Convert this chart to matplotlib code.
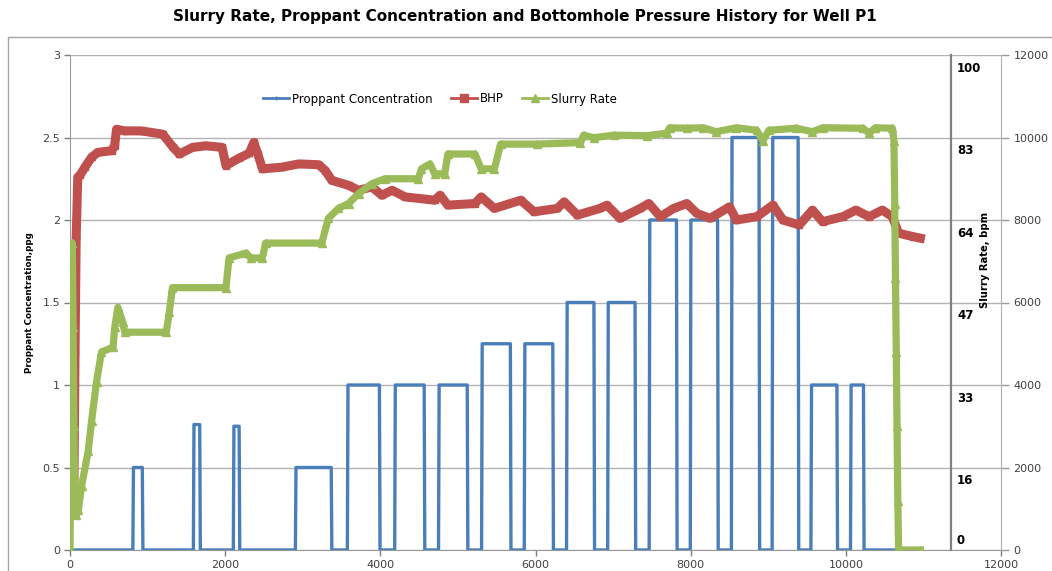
import numpy as np
import matplotlib
matplotlib.use("Agg")
import matplotlib.pyplot as plt
from matplotlib.patches import Rectangle
from matplotlib.lines import Line2D
from matplotlib.transforms import offset_copy

# proppant stages: start time, end time, concentration (ppg)
stage_start = [810, 1590, 2105, 2905, 3575, 4185, 4750, 5305, 5855, 6400, 6930, 7465, 7995, 8525, 9050, 9550, 10060]
stage_end = [940, 1680, 2188, 3375, 3996, 4573, 5128, 5684, 6231, 6761, 7291, 7825, 8355, 8889, 9393, 9893, 10235]
stage_conc = [0.5, 0.76, 0.75, 0.5, 1.0, 1.0, 1.0, 1.25, 1.25, 1.5, 1.5, 2.0, 2.0, 2.5, 2.5, 1.0, 1.0]
prop_end_time = 10650

# bottomhole pressure, psi
bhp_t = [0, 15, 30, 50, 65, 80, 100, 128, 192, 278, 360, 535, 575, 600, 705, 920, 1195, 1330, 1410,
         1580, 1750, 1960, 2010, 2180, 2310, 2370, 2420, 2480, 2730, 2950, 3205, 3290, 3375, 3590,
         3720, 3890, 4020, 4150, 4320, 4700, 4770, 4870, 5220, 5300, 5470, 5810, 5980, 6280, 6370,
         6540, 6830, 6920, 7090, 7350, 7460, 7610, 7780, 7950, 8080, 8250, 8500, 8590, 8850, 9060,
         9190, 9400, 9570, 9700, 9960, 10130, 10300, 10470, 10600, 10680, 10860, 10960]
bhp = [5320, 3200, 1200, 1400, 4800, 7600, 9040, 9080, 9280, 9520, 9640, 9680, 9800, 10200, 10160,
       10160, 10080, 9760, 9600, 9760, 9800, 9760, 9320, 9500, 9620, 9880, 9600, 9240, 9280, 9360,
       9340, 9200, 8960, 8840, 8720, 8800, 8600, 8720, 8560, 8480, 8600, 8360, 8400, 8560, 8280,
       8480, 8200, 8280, 8440, 8120, 8280, 8360, 8040, 8280, 8400, 8080, 8280, 8400, 8160, 8040,
       8320, 8000, 8080, 8360, 8000, 7880, 8240, 7960, 8080, 8240, 8080, 8240, 8080, 7680, 7600, 7560]

# slurry rate, bpm
rate_t = [0, 10, 20, 30, 40, 50, 60, 80, 107, 150, 235, 278, 342, 406, 555, 577, 617, 680, 705, 1240,
          1280, 1320, 2010, 2050, 2270, 2330, 2480, 2520, 3245, 3330, 3460, 3590, 3720, 3890, 4060,
          4490, 4530, 4640, 4700, 4830, 4870, 5220, 5300, 5470, 5550, 6020, 6580, 6620, 6750, 7010,
          7440, 7690, 7730, 7950, 8160, 8330, 8590, 8850, 8930, 9010, 9360, 9570, 9700, 10220, 10300,
          10380, 10600, 10620, 10630, 10640, 10650, 10660, 10670, 10680, 10960]
rate = [0, 20, 40, 62, 45, 25, 10, 7, 8, 13, 20, 26, 34, 40, 41, 45, 49, 46, 44, 44,
        48, 53, 53, 59, 60, 59, 59, 62, 62, 67, 69, 70, 72, 74, 75,
        75, 77, 78, 76, 76, 80, 80, 77, 77, 82, 82, 82.3, 83.8, 83.3, 83.8,
        83.7, 84.2, 85.3, 85.2, 85.3, 84.5, 85.3, 84.8, 82.7, 84.8, 85.2, 84.5, 85.3, 85.2, 84.2,
        85.3, 85.2, 82.7, 70, 55, 40, 25, 10, 0, 0]

rate_ticks = [0, 16.67, 33.33, 50, 66.67, 83.33, 100]
rate_labels = ["0", "16", "33", "47", "64", "83", "100"]

blue = "#4a7ebb"
red = "#c0504d"
green = "#9bbb59"
grid_c = "#b3b3b3"

# build step series for proppant
prop_t = [0]
prop_v = [0]
for s, e, c in zip(stage_start, stage_end, stage_conc):
    prop_t += [s, s + 8, e - 8, e]
    prop_v += [0, c, c, 0]
prop_t.append(prop_end_time)
prop_v.append(0)

fig = plt.figure(figsize=(10.52, 5.71), dpi=100)
fig.patches.append(Rectangle((8 / 1052, -0.1), 1.2, 1 - 37 / 571 + 0.1, transform=fig.transFigure,
                             fill=False, edgecolor="#a6a6a6", lw=1))

ax = fig.add_axes([70 / 1052, 21 / 571, 931 / 1052, 495 / 571])
ax2 = ax.twinx()
ax3 = ax.twinx()

ax.set_xlim(0, 12000)
ax.set_ylim(0, 3)
ax2.set_ylim(0, 12000)
ax3.set_ylim(0, 100)

ax.set_yticks(np.arange(0, 3.01, 0.5))
ax.set_yticklabels(["0", "0.5", "1", "1.5", "2", "2.5", "3"])
ax.set_xticks(np.arange(0, 12001, 2000))
ax.grid(axis="y", color=grid_c, lw=1)
ax.set_axisbelow(True)
ax.tick_params(axis="both", labelsize=8, colors="#7f7f7f", labelcolor="#404040", length=4, width=1, pad=3)
for side in ["top", "right"]:
    ax.spines[side].set_visible(False)
for side in ["left", "bottom"]:
    ax.spines[side].set_color("#9a9a9a")
ax.set_ylabel("Proppant Concentration,ppg", fontsize=6.3, fontweight="bold", labelpad=6)

ax2.set_yticks(np.arange(0, 12001, 2000))
ax2.tick_params(axis="y", labelsize=8, colors="#9a9a9a", labelcolor="#404040", length=6, width=1, pad=3)
for side in ["top", "left", "bottom"]:
    ax2.spines[side].set_visible(False)
ax2.spines["right"].set_color("#b0b0b0")

ax3.spines["right"].set_position(("axes", 0.946))
ax3.spines["right"].set_color("#808080")
ax3.spines["right"].set_linewidth(1.6)
for side in ["top", "left", "bottom"]:
    ax3.spines[side].set_visible(False)
ax3.set_yticks([])
for v, lab in zip(rate_ticks, rate_labels):
    if v == 0:
        tr = offset_copy(ax3.get_yaxis_transform(), fig=fig, x=4.5, y=2, units="points")
        ax3.text(0.946, v, lab, transform=tr, ha="left", va="bottom", fontsize=8.5, fontweight="bold")
    else:
        tr = offset_copy(ax3.get_yaxis_transform(), fig=fig, x=4.5, y=-5, units="points")
        ax3.text(0.946, v, lab, transform=tr, ha="left", va="top", fontsize=8.5, fontweight="bold")
ax3.text(0.983, 0.586, "Slurry Rate, bpm", transform=ax3.transAxes, rotation=90, ha="center",
         va="center", fontsize=7.2, fontweight="bold")

ax.plot(prop_t, prop_v, color=blue, lw=2.4, zorder=3)
ax2.plot(bhp_t, bhp, color=red, lw=6.5, marker="s", ms=5, zorder=3, solid_joinstyle="round")
ax3.plot(rate_t, rate, color=green, lw=5.2, marker="^", ms=5.5, zorder=3, solid_joinstyle="round")

handles = [Line2D([], [], color=blue, lw=2, marker="+", ms=3),
           Line2D([], [], color=red, lw=2, marker="s", ms=6),
           Line2D([], [], color=green, lw=2, marker="^", ms=6)]
fig.legend(handles, ["Proppant Concentration", "BHP", "Slurry Rate"], loc="center",
           bbox_to_anchor=(440 / 1052, 1 - 99 / 571), ncol=3, frameon=False, fontsize=8.5,
           handlelength=2.2, handletextpad=0.3, columnspacing=1.5)

fig.text(525 / 1052, 1 - 16 / 571, "Slurry Rate, Proppant Concentration and Bottomhole Pressure History for Well P1",
         ha="center", va="center", fontsize=11, fontweight="bold")

fig.savefig("out.png", dpi=100)
